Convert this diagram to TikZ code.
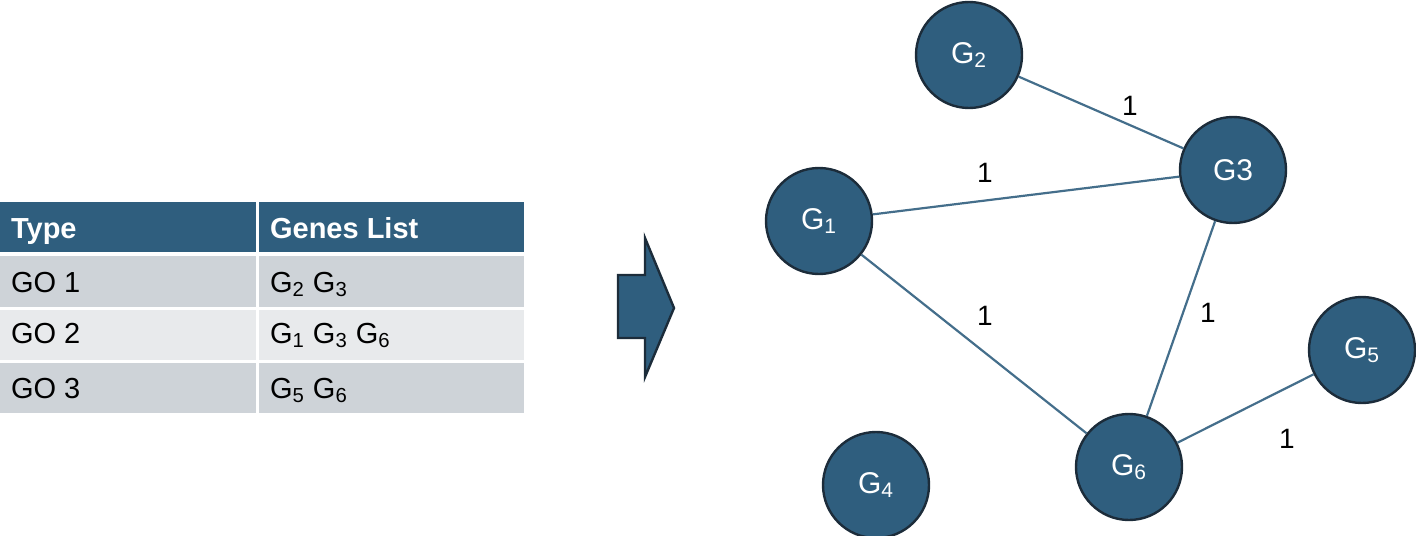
\documentclass[tikz,border=0pt]{standalone}
\usepackage{fontspec}
\setmainfont{Liberation Sans}
\usepackage{tikz}
\usetikzlibrary{calc}
\definecolor{myblue}{RGB}{47, 94, 126}
\definecolor{myedge}{RGB}{28, 44, 58}
\definecolor{mygray1}{RGB}{206, 211, 216}
\definecolor{mygray2}{RGB}{232, 234, 236}
\newcommand{\gn}[1]{G\textsubscript{#1}}
\tikzset{
  gene/.style = {circle, fill = myblue, draw = myedge, line width = 1.2pt, minimum size = 53pt, inner sep = 0pt, text = white, font = \fontsize{15}{17}\selectfont},
  link/.style = {myblue!90!white, line width = 1.1pt},
  wt/.style = {font = \fontsize{14}{16}\selectfont},
  cell/.style = {anchor = base west, font = \fontsize{14.5}{17}\selectfont}
}

\begin{document}
\begin{tikzpicture}[x = 0.5pt, y = -0.5pt]
\useasboundingbox (0, 0) rectangle (1416, 535);

\begin{scope}
% table
\fill[myblue] (0, 202) rectangle (256, 252);
\fill[myblue] (259, 202) rectangle (524, 252);
\fill[mygray1] (0, 256) rectangle (256, 307);
\fill[mygray1] (259, 256) rectangle (524, 307);
\fill[mygray2] (0, 310) rectangle (256, 360);
\fill[mygray2] (259, 310) rectangle (524, 360);
\fill[mygray1] (0, 363) rectangle (256, 413);
\fill[mygray1] (259, 363) rectangle (524, 413);
\node[cell, text = white, font = \fontsize{14.5}{17}\selectfont\bfseries] (type) at (4, 238) {Type};
\node[cell, text = white, font = \fontsize{14.5}{17}\selectfont\bfseries] (genes) at (263, 238) {Genes List};
\node[cell] (go1) at (4, 292) {GO 1};
\node[cell] (go2) at (4, 343) {GO 2};
\node[cell] (go3) at (4, 398) {GO 3};
\node[cell] (list1) at (263, 292) {\gn{2} \gn{3}};
\node[cell] (list2) at (263, 343) {\gn{1} \gn{3} \gn{6}};
\node[cell] (list3) at (263, 398) {\gn{5} \gn{6}};
\end{scope}

\begin{scope}
% block arrow
\filldraw[fill = myblue, draw = myedge, line width = 1.2pt, line join = miter]
  (618, 275) -- (645, 275) -- (645, 238) -- (674, 308) -- (645, 377) -- (645, 338) -- (618, 338) -- cycle;
\end{scope}

\begin{scope}
% graph
\node[gene] (g2) at (969, 55) {\gn{2}};
\node[gene] (g1) at (819, 221) {\gn{1}};
\node[gene] (g3) at (1233, 170) {G3};
\node[gene] (g6) at (1129, 467) {\gn{6}};
\node[gene] (g5) at (1362, 350) {\gn{5}};
\node[gene] (g4) at (876, 485) {\gn{4}};
\draw[link] (g2) -- (g3);
\draw[link] (g1) -- (g3);
\draw[link] (g1) -- (g6);
\draw[link] (g3) -- (g6);
\draw[link] (g6) -- (g5);
\node[wt] (w23) at (1130, 106) {1};
\node[wt] (w13) at (985, 173) {1};
\node[wt] (w16) at (985, 316) {1};
\node[wt] (w36) at (1208, 313) {1};
\node[wt] (w65) at (1287, 439) {1};
\end{scope}
\end{tikzpicture}
\end{document}
